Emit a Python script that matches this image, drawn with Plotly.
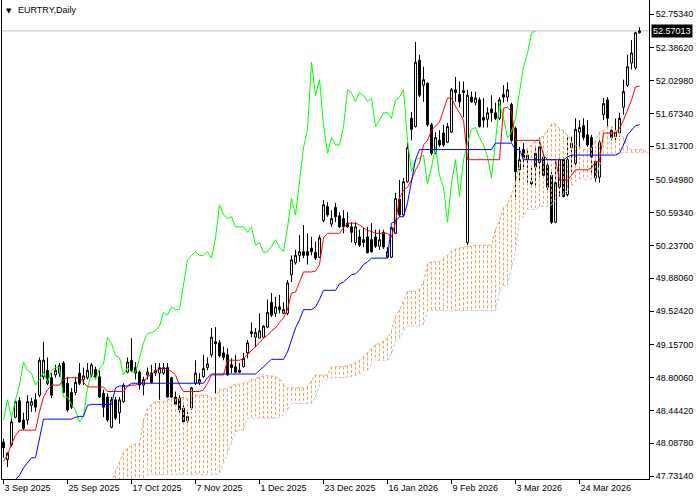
import plotly.graph_objects as go

# ---------------- data ----------------
date_labels = ["3 Sep 2025", "25 Sep 2025", "17 Oct 2025", "7 Nov 2025", "1 Dec 2025",
               "23 Dec 2025", "16 Jan 2026", "9 Feb 2026", "3 Mar 2026", "24 Mar 2026"]
label_bars = [0, 16, 32, 48, 64, 80, 96, 112, 128, 144]

price_ticks = [52.7534, 52.3862, 52.0298, 51.6734, 51.3170, 50.9498, 50.5934, 50.2370,
               49.8806, 49.5242, 49.1570, 48.8006, 48.4442, 48.0878, 47.7314]

open_ = [48.10, 47.91, 48.07, 48.37, 48.55, 48.34, 48.34, 48.50, 48.56, 48.61,
         48.81, 48.88, 48.80, 48.83, 48.85, 48.96, 48.74, 48.64, 48.64, 48.85,
         48.78, 48.80, 48.83, 48.89, 48.81, 48.63, 48.59, 48.26, 48.56, 48.42,
         48.54, 48.86, 48.99, 48.91, 48.86, 48.72, 48.83, 48.85, 48.85, 48.85,
         48.85, 48.91, 48.80, 48.59, 48.58, 48.47, 48.33, 48.47, 48.74, 48.75,
         48.81, 48.91, 49.05, 49.19, 49.18, 49.07, 49.05, 48.94, 48.92, 48.88,
         48.92, 49.07, 49.30, 49.24, 49.23, 49.24, 49.35, 49.62, 49.50, 49.57,
         49.50, 49.50, 49.92, 50.05, 50.13, 50.17, 50.17, 50.21, 50.16, 50.11,
         50.51, 50.66, 50.47, 50.65, 50.56, 50.53, 50.48, 50.44, 50.27, 50.33,
         50.30, 50.33, 50.30, 50.33, 50.23, 50.38, 50.11, 50.11, 50.37, 50.74,
         50.57, 50.93, 51.62, 51.53, 52.25, 51.98, 52.00, 51.55, 51.24, 51.38,
         51.46, 51.36, 51.47, 51.93, 51.88, 51.92, 50.27, 51.85, 51.79, 51.82,
         51.63, 51.61, 51.72, 51.68, 51.62, 51.88, 51.85, 51.77, 51.51, 51.06,
         51.28, 51.17, 50.93, 51.24, 51.14, 51.20, 51.11, 51.00, 50.49, 50.87,
         51.17, 50.79, 51.30, 51.13, 51.47, 51.54, 51.44, 51.41, 51.15, 50.98,
         51.66, 51.82, 51.49, 51.42, 51.46, 51.74, 51.98, 52.22, 52.17, 52.55]

high = [48.14, 47.99, 48.36, 48.56, 48.59, 48.42, 48.61, 48.58, 48.63, 49.02,
        49.19, 49.02, 48.85, 48.94, 48.96, 48.98, 48.81, 48.69, 48.81, 48.96,
        48.91, 48.96, 48.96, 48.92, 48.88, 48.67, 48.63, 48.59, 48.59, 48.59,
        48.74, 49.02, 49.23, 48.97, 48.88, 48.81, 48.91, 48.94, 48.96, 48.96,
        48.96, 48.96, 48.81, 48.65, 48.61, 48.50, 48.43, 48.70, 48.99, 48.85,
        49.05, 49.02, 49.34, 49.35, 49.21, 49.14, 49.12, 49.01, 49.05, 48.96,
        49.07, 49.21, 49.40, 49.34, 49.50, 49.37, 49.65, 49.72, 49.68, 49.70,
        49.62, 49.86, 50.13, 50.19, 50.35, 50.46, 50.37, 50.33, 50.28, 50.35,
        50.73, 50.71, 50.62, 50.70, 50.60, 50.62, 50.60, 50.49, 50.49, 50.41,
        50.43, 50.44, 50.48, 50.41, 50.41, 50.41, 50.22, 50.44, 50.81, 50.95,
        50.97, 51.35, 51.69, 52.45, 52.31, 52.18, 52.01, 51.57, 51.47, 51.49,
        51.55, 51.57, 51.95, 52.07, 52.02, 52.02, 51.93, 51.91, 51.91, 51.85,
        51.84, 51.74, 51.87, 51.79, 51.85, 51.98, 52.01, 51.79, 51.53, 51.31,
        51.35, 51.28, 51.09, 51.31, 51.41, 51.25, 51.13, 51.04, 51.15, 51.19,
        51.20, 51.42, 51.42, 51.62, 51.60, 51.62, 51.60, 51.44, 51.17, 51.38,
        51.84, 51.85, 51.53, 51.62, 51.68, 52.04, 52.31, 52.47, 52.56, 52.61]

low = [47.93, 47.83, 48.05, 48.36, 48.31, 48.23, 48.29, 48.43, 48.43, 48.59,
       48.78, 48.72, 48.58, 48.80, 48.81, 48.63, 48.43, 48.46, 48.61, 48.72,
       48.72, 48.78, 48.81, 48.80, 48.58, 48.37, 48.32, 48.25, 48.34, 48.30,
       48.53, 48.85, 48.86, 48.78, 48.67, 48.61, 48.78, 48.74, 48.82, 48.56,
       48.83, 48.58, 48.58, 48.50, 48.42, 48.31, 48.31, 48.45, 48.72, 48.72,
       48.80, 48.88, 49.02, 48.63, 49.02, 48.99, 48.82, 48.85, 48.85, 48.85,
       48.91, 49.01, 49.24, 49.13, 49.23, 49.24, 49.34, 49.46, 49.46, 49.50,
       49.49, 49.48, 49.84, 50.03, 50.06, 50.10, 50.03, 50.13, 50.08, 50.10,
       50.49, 50.55, 50.44, 50.49, 50.43, 50.37, 50.43, 50.27, 50.24, 50.22,
       50.22, 50.15, 50.16, 50.21, 50.19, 50.20, 50.10, 50.10, 50.36, 50.55,
       50.55, 50.92, 51.38, 51.52, 51.85, 51.80, 51.53, 51.22, 51.23, 51.31,
       51.31, 51.35, 51.46, 51.80, 51.74, 51.63, 50.24, 51.79, 51.76, 51.52,
       51.52, 51.52, 51.58, 51.60, 51.60, 51.79, 51.80, 51.36, 50.73, 50.92,
       51.08, 50.92, 50.89, 50.87, 50.98, 50.98, 50.84, 50.47, 50.48, 50.77,
       50.76, 50.77, 51.04, 51.09, 51.28, 51.38, 51.31, 51.03, 50.93, 50.92,
       51.60, 51.53, 51.38, 51.38, 51.42, 51.66, 51.96, 52.15, 52.15, 52.54]

close = [48.04, 47.98, 48.32, 48.54, 48.32, 48.25, 48.54, 48.54, 48.48, 48.99,
         48.99, 48.74, 48.61, 48.88, 48.93, 48.64, 48.45, 48.48, 48.75, 48.74,
         48.82, 48.88, 48.94, 48.81, 48.59, 48.48, 48.34, 48.56, 48.36, 48.56,
         48.72, 48.97, 48.88, 48.85, 48.72, 48.78, 48.86, 48.75, 48.88, 48.91,
         48.91, 48.59, 48.59, 48.51, 48.45, 48.32, 48.38, 48.69, 48.85, 48.78,
         48.90, 48.95, 49.24, 49.17, 49.04, 49.02, 48.83, 48.91, 48.86, 48.86,
         49.01, 49.18, 49.28, 49.29, 49.31, 49.36, 49.51, 49.48, 49.57, 49.54,
         49.54, 49.83, 50.08, 50.13, 50.17, 50.13, 50.13, 50.17, 50.10, 50.32,
         50.68, 50.57, 50.53, 50.55, 50.44, 50.44, 50.44, 50.38, 50.44, 50.24,
         50.27, 50.16, 50.17, 50.23, 50.30, 50.22, 50.17, 50.43, 50.75, 50.57,
         50.93, 51.30, 51.50, 52.23, 51.87, 52.04, 51.55, 51.24, 51.41, 51.33,
         51.33, 51.53, 51.93, 51.90, 51.80, 51.90, 51.87, 51.80, 51.84, 51.53,
         51.60, 51.68, 51.68, 51.62, 51.82, 51.85, 51.93, 51.38, 51.04, 51.17,
         51.19, 51.22, 50.91, 51.09, 51.31, 51.00, 50.87, 50.49, 50.92, 51.17,
         50.77, 51.17, 51.35, 51.50, 51.52, 51.41, 51.33, 51.20, 50.97, 51.36,
         51.78, 51.62, 51.41, 51.47, 51.62, 51.91, 52.18, 52.33, 52.55, 52.57013]

tenkan = [47.89, 47.96, 48.08, 48.17, 48.23, 48.23, 48.23, 48.23, 48.23, 48.43,
          48.59, 48.67, 48.72, 48.72, 48.72, 48.78, 48.80, 48.80, 48.80, 48.80,
          48.75, 48.70, 48.70, 48.70, 48.70, 48.70, 48.65, 48.65, 48.65, 48.65,
          48.65, 48.71, 48.72, 48.72, 48.74, 48.75, 48.81, 48.84, 48.88, 48.89,
          48.91, 48.89, 48.87, 48.83, 48.72, 48.65, 48.65, 48.65, 48.65, 48.65,
          48.67, 48.74, 48.83, 48.83, 48.83, 48.83, 48.99, 48.99, 48.99, 48.99,
          49.01, 49.05, 49.09, 49.13, 49.18, 49.23, 49.26, 49.31, 49.34, 49.40,
          49.45, 49.54, 49.72, 49.73, 49.84, 49.95, 49.95, 49.95, 49.96, 50.03,
          50.32, 50.37, 50.37, 50.37, 50.37, 50.43, 50.48, 50.48, 50.48, 50.46,
          50.43, 50.40, 50.39, 50.37, 50.37, 50.37, 50.37, 50.33, 50.49, 50.75,
          50.84, 50.87, 50.95, 51.06, 51.13, 51.33, 51.38, 51.49, 51.53, 51.58,
          51.71, 51.84, 51.84, 51.75, 51.68, 51.60, 51.17, 51.17, 51.17, 51.17,
          51.17, 51.17, 51.17, 51.17, 51.17, 51.73, 51.74, 51.69, 51.38, 51.38,
          51.38, 51.38, 51.38, 51.38, 51.38, 51.22, 51.17, 51.17, 51.17, 50.95,
          50.95, 50.95, 51.00, 51.06, 51.06, 51.06, 51.06, 51.08, 51.15, 51.15,
          51.46, 51.46, 51.46, 51.46, 51.51, 51.60, 51.71, 51.82, 51.96, 51.97]

kijun = [47.47, 47.53, 47.60, 47.69, 47.74, 47.82, 47.88, 47.93, 47.93, 48.16,
         48.35, 48.35, 48.35, 48.35, 48.35, 48.35, 48.35, 48.35, 48.37, 48.38,
         48.38, 48.50, 48.51, 48.51, 48.51, 48.51, 48.51, 48.51, 48.69, 48.71,
         48.71, 48.71, 48.74, 48.74, 48.74, 48.74, 48.74, 48.74, 48.74, 48.74,
         48.74, 48.74, 48.74, 48.74, 48.74, 48.74, 48.74, 48.74, 48.74, 48.74,
         48.74, 48.80, 48.84, 48.84, 48.84, 48.84, 48.84, 48.84, 48.84, 48.84,
         48.84, 48.84, 48.84, 48.84, 48.88, 48.92, 48.97, 49.00, 49.00, 49.00,
         49.00, 49.08, 49.21, 49.34, 49.43, 49.54, 49.54, 49.54, 49.57, 49.65,
         49.75, 49.75, 49.75, 49.75, 49.82, 49.84, 49.88, 49.92, 49.93, 49.97,
         50.03, 50.06, 50.10, 50.10, 50.10, 50.10, 50.10, 50.48, 50.50, 50.55,
         50.55, 50.70, 50.92, 51.17, 51.28, 51.28, 51.28, 51.28, 51.28, 51.28,
         51.28, 51.28, 51.28, 51.28, 51.28, 51.28, 51.28, 51.28, 51.28, 51.28,
         51.28, 51.28, 51.28, 51.35, 51.35, 51.35, 51.35, 51.35, 51.28, 51.28,
         51.17, 51.17, 51.17, 51.17, 51.17, 51.17, 51.17, 51.17, 51.17, 51.17,
         51.17, 51.20, 51.22, 51.22, 51.22, 51.22, 51.22, 51.22, 51.22, 51.22,
         51.22, 51.22, 51.22, 51.22, 51.24, 51.33, 51.44, 51.49, 51.54, 51.55]

# Senkou spans, plotted from bar 26 onwards (26 bars ahead of their source bar)
senkou_a = [47.56, 47.67, 47.79, 47.88, 47.99, 48.03, 48.06, 48.08, 48.08, 48.34,
            48.47, 48.51, 48.54, 48.54, 48.54, 48.56, 48.57, 48.57, 48.58, 48.59,
            48.57, 48.60, 48.61, 48.61, 48.61, 48.61, 48.58, 48.58, 48.67, 48.68,
            48.68, 48.71, 48.73, 48.73, 48.74, 48.75, 48.78, 48.79, 48.81, 48.82,
            48.82, 48.82, 48.81, 48.79, 48.73, 48.69, 48.69, 48.69, 48.69, 48.69,
            48.70, 48.77, 48.83, 48.83, 48.83, 48.83, 48.92, 48.92, 48.92, 48.92,
            48.93, 48.94, 48.97, 48.99, 49.03, 49.07, 49.12, 49.16, 49.17, 49.20,
            49.23, 49.31, 49.47, 49.54, 49.63, 49.74, 49.74, 49.74, 49.76, 49.84,
            50.04, 50.06, 50.06, 50.06, 50.10, 50.13, 50.18, 50.20, 50.21, 50.22,
            50.23, 50.23, 50.24, 50.24, 50.24, 50.24, 50.24, 50.41, 50.50, 50.65,
            50.69, 50.79, 50.93, 51.11, 51.20, 51.30, 51.33, 51.38, 51.40, 51.43,
            51.49, 51.56, 51.56, 51.51, 51.48, 51.44, 51.36, 51.33, 51.31, 51.28,
            51.28, 51.30, 51.38, 51.47, 51.49, 51.53, 51.53, 51.49, 51.46, 51.41,
            51.30, 51.28, 51.28, 51.28, 51.28, 51.25, 51.25]

senkou_b = [47.58, 47.58, 47.58, 47.58, 47.58, 47.58, 47.58, 47.58, 47.58, 47.58,
            47.75, 47.75, 47.75, 47.75, 47.75, 47.75, 47.75, 47.75, 47.75, 47.75,
            47.75, 47.75, 47.75, 47.75, 47.75, 47.75, 47.75, 47.75, 47.75, 47.87,
            47.99, 48.10, 48.21, 48.23, 48.23, 48.36, 48.36, 48.36, 48.36, 48.36,
            48.36, 48.36, 48.36, 48.36, 48.40, 48.45, 48.52, 48.52, 48.52, 48.52,
            48.52, 48.52, 48.59, 48.72, 48.78, 48.78, 48.80, 48.80, 48.80, 48.80,
            48.81, 48.81, 48.83, 48.83, 48.88, 48.88, 48.95, 48.99, 48.99, 48.99,
            48.99, 49.06, 49.20, 49.22, 49.31, 49.36, 49.36, 49.36, 49.36, 49.38,
            49.53, 49.53, 49.53, 49.53, 49.53, 49.53, 49.53, 49.53, 49.53, 49.53,
            49.53, 49.53, 49.53, 49.53, 49.53, 49.53, 49.53, 49.53, 49.73, 49.79,
            49.81, 50.00, 50.17, 50.54, 50.55, 50.63, 50.63, 50.63, 50.66, 50.66,
            50.66, 50.68, 50.73, 50.79, 50.79, 50.84, 50.88, 50.93, 50.96, 50.96,
            50.96, 50.96, 50.97, 51.11, 51.24, 51.24, 51.24, 51.24, 51.24, 51.25,
            51.25, 51.25, 51.25, 51.25, 51.25, 51.25, 51.25]

SHIFT = 26  # Ichimoku displacement

# ---------------- derived plotting positions ----------------
n = len(close)
bars = list(range(n))
cloud_x = list(range(SHIFT, SHIFT + len(senkou_a)))
chikou_x = [i - SHIFT for i in range(SHIFT, n)]
chikou_y = close[SHIFT:]

up_x, up_y, dn_x, dn_y = [], [], [], []
for k, a, b in zip(cloud_x, senkou_a, senkou_b):
    if a >= b:
        up_x += [k, k, None]
        up_y += [a, b, None]
    else:
        dn_x += [k, k, None]
        dn_y += [a, b, None]

SANDY = "#F4A460"
THISTLE = "#D8BFD8"
FONT = "Liberation Sans"

fig = go.Figure()
fig.add_trace(go.Scatter(x=up_x, y=up_y, mode="lines", connectgaps=False,
                         line=dict(color=SANDY, width=1, dash="3px,2px"), hoverinfo="skip"))
fig.add_trace(go.Scatter(x=dn_x, y=dn_y, mode="lines", connectgaps=False,
                         line=dict(color=THISTLE, width=1, dash="3px,2px"), hoverinfo="skip"))
fig.add_trace(go.Scatter(x=cloud_x, y=senkou_a, mode="lines",
                         line=dict(color=SANDY, width=1, dash="3px,2px")))
fig.add_trace(go.Scatter(x=cloud_x, y=senkou_b, mode="lines",
                         line=dict(color=THISTLE, width=1, dash="3px,2px")))
fig.add_trace(go.Scatter(x=chikou_x, y=chikou_y, mode="lines",
                         line=dict(color="#00FF00", width=1)))
fig.add_trace(go.Scatter(x=bars, y=tenkan, mode="lines",
                         line=dict(color="#FF0000", width=1)))
fig.add_trace(go.Scatter(x=bars, y=kijun, mode="lines",
                         line=dict(color="#0000FF", width=1)))
fig.add_trace(go.Candlestick(
    x=bars, open=open_, high=high, low=low, close=close,
    increasing=dict(line=dict(color="black", width=1), fillcolor="white"),
    decreasing=dict(line=dict(color="black", width=1), fillcolor="black"),
    whiskerwidth=0,
))

last = close[-1]
fig.add_shape(type="line", xref="paper", x0=0, x1=1, yref="y", y0=last, y1=last,
              line=dict(color="#C0C0C0", width=1), layer="below")

fig.add_annotation(x=1, xref="paper", y=last, yref="y", xanchor="left", yanchor="middle",
                   xshift=2, text=f"{last:.5f}", showarrow=False,
                   font=dict(family=FONT, size=9, color="white"),
                   bgcolor="black", borderpad=1)
fig.add_annotation(x=0, xref="paper", y=1, yref="paper", xanchor="left", yanchor="top",
                   xshift=2, yshift=-5, text="▼", showarrow=False,
                   font=dict(family="DejaVu Sans", size=7, color="black"))
fig.add_annotation(x=0, xref="paper", y=1, yref="paper", xanchor="left", yanchor="top",
                   xshift=14, yshift=-3, text="EURTRY,Daily", showarrow=False,
                   font=dict(family=FONT, size=9, color="black"))

fig.update_layout(
    width=700, height=500, autosize=False,
    margin=dict(l=2, r=51, t=0, b=21),
    paper_bgcolor="white", plot_bgcolor="white",
    showlegend=False,
    xaxis=dict(range=[-0.375, 161.375], tickvals=label_bars, ticktext=date_labels,
               ticks="outside", ticklen=4, tickcolor="black", showline=True,
               linecolor="black", linewidth=1, showgrid=False, zeroline=False,
               ticklabelposition="outside right",
               tickfont=dict(family=FONT, size=9, color="black"),
               rangeslider=dict(visible=False), fixedrange=True),
    yaxis=dict(side="right", range=[47.699, 52.906], tickvals=price_ticks,
               ticktext=[f"{v:.5f}" for v in price_ticks],
               ticks="outside", ticklen=4, tickcolor="black", showline=True, mirror=True,
               linecolor="black", linewidth=1, showgrid=False, zeroline=False,
               tickfont=dict(family=FONT, size=9, color="black"), fixedrange=True),
)

fig.write_html(
    "out.html",
    config={"displayModeBar": False},
    post_script="document.body.style.margin='0';document.body.style.padding='0';"
                "document.documentElement.style.overflow='hidden';",
)
